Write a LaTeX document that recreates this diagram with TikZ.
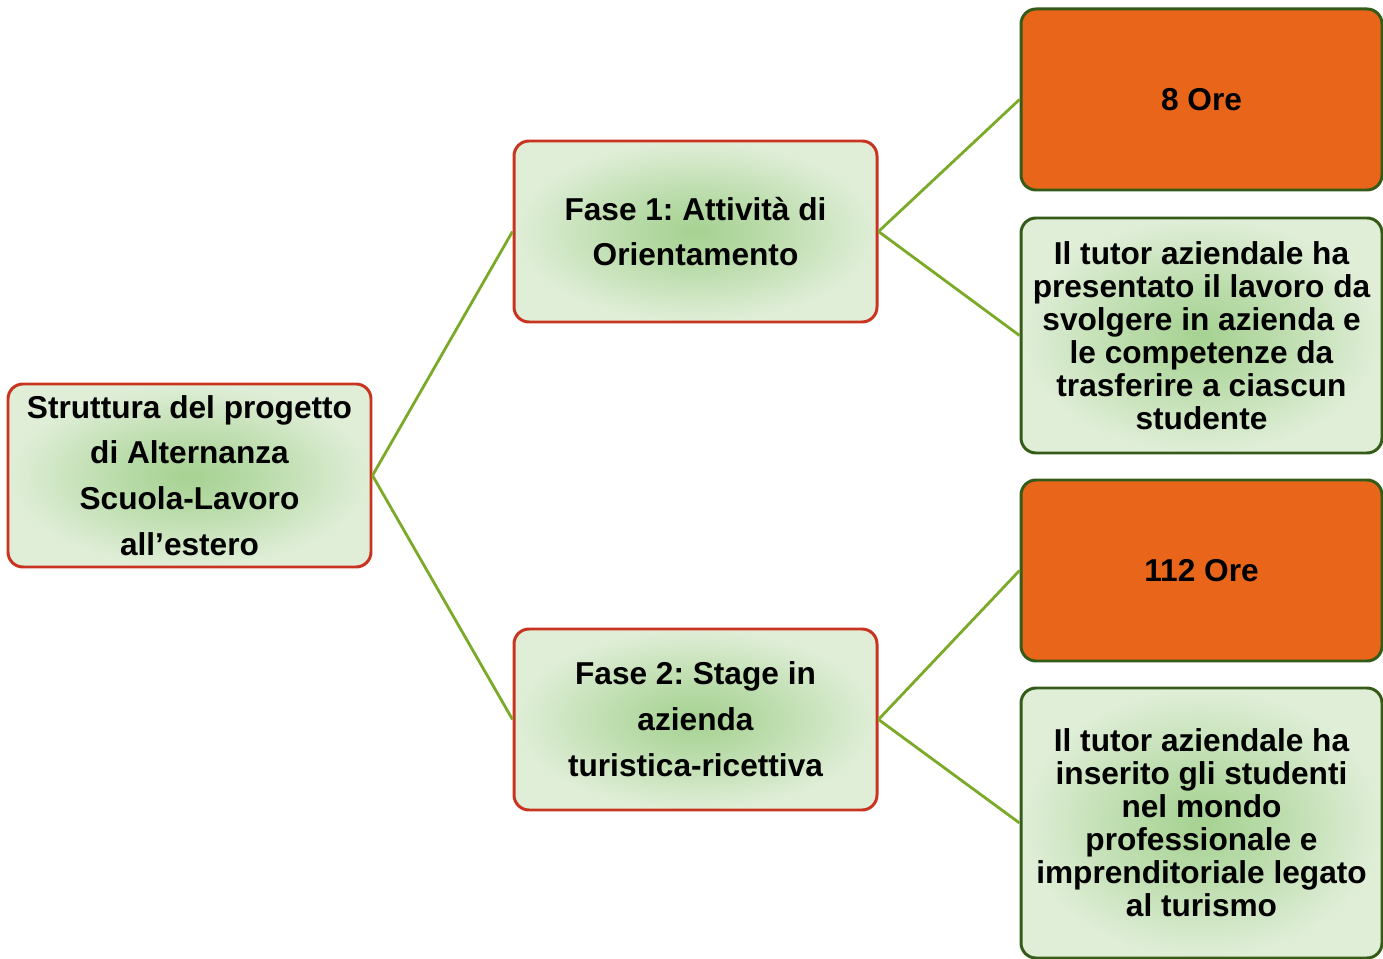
\documentclass[tikz,border=0pt]{standalone}
\usepackage{fontspec}
\setmainfont{Liberation Sans}
\frenchspacing
\definecolor{redline}{RGB}{200,52,32}
\definecolor{dkgreen}{RGB}{52,92,24}
\definecolor{orangefill}{RGB}{232,101,26}
\definecolor{conn}{RGB}{122,170,40}
\definecolor{gin}{RGB}{166,210,146}
\definecolor{gout}{RGB}{224,238,216}
\pgfdeclareradialshading{glow}{\pgfpoint{0bp}{0bp}}{color(0bp)=(gin); color(9bp)=(gin!70!gout); color(25bp)=(gout); color(50bp)=(gout)}
\tikzset{
  basebox/.style={rounded corners=0.3cm, line width=1.7pt, inner sep=0pt, align=center, font=\bfseries},
  greenfill/.style={shade, shading=glow},
  leftbox/.style={basebox, greenfill, draw=redline, minimum width=7.26cm, font=\fontsize{18}{26.1}\selectfont\bfseries},
  orangebox/.style={basebox, draw=dkgreen, fill=orangefill, minimum width=7.22cm, minimum height=3.62cm, font=\fontsize{18}{18.8}\selectfont\bfseries},
  textbox/.style={basebox, greenfill, draw=dkgreen, minimum width=7.22cm, font=\fontsize{18}{18.8}\selectfont\bfseries},
  link/.style={draw=conn, line width=1.6pt}
}
\begin{document}
\begin{tikzpicture}
\useasboundingbox (0,0) rectangle (27.66,-19.18);
\node[leftbox, minimum height=3.66cm] (root) at (3.79,-9.51) {Struttura del progetto\\di Alternanza\\Scuola-Lavoro\\all’estero};
\node[leftbox, minimum height=3.62cm] (f1) at (13.91,-4.63) {Fase 1: Attività di\\Orientamento};
\node[leftbox, minimum height=3.62cm] (f2) at (13.91,-14.39) {Fase 2: Stage in\\azienda\\turistica-ricettiva};
\node[orangebox] (o1) at (24.03,-1.99) {8 Ore};
\node[textbox, minimum height=4.7cm] (t1) at (24.03,-6.71) {Il tutor aziendale ha\\presentato il lavoro da\\svolgere in azienda e\\le competenze da\\trasferire a ciascun\\studente};
\node[orangebox] (o2) at (24.03,-11.41) {112 Ore};
\node[textbox, minimum height=5.4cm] (t2) at (24.03,-16.46) {Il tutor aziendale ha\\inserito gli studenti\\nel mondo\\professionale e\\imprenditoriale legato\\al turismo};
\draw[link] (root.east) -- (f1.west);
\draw[link] (root.east) -- (f2.west);
\draw[link] (f1.east) -- (o1.west);
\draw[link] (f1.east) -- (t1.west);
\draw[link] (f2.east) -- (o2.west);
\draw[link] (f2.east) -- (t2.west);
\end{tikzpicture}
\end{document}
